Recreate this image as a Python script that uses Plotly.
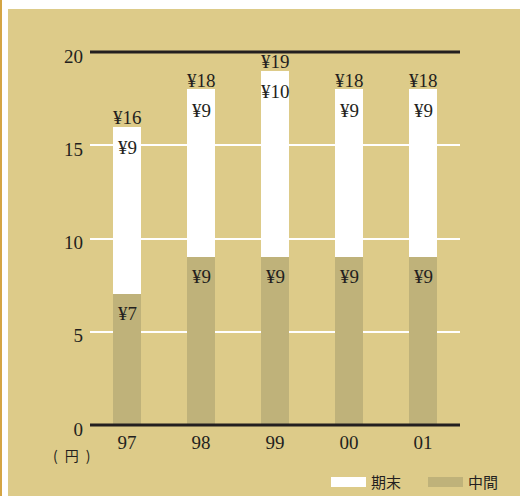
import plotly.graph_objects as go

# Dividend per share (yen), fiscal years 97-01
years = ["97", "98", "99", "00", "01"]
interim = [7, 9, 9, 9, 9]      # 中間
year_end = [9, 9, 10, 9, 9]    # 期末
totals = [a + b for a, b in zip(interim, year_end)]
y_ticks = [0, 5, 10, 15, 20]
xpos = list(range(len(years)))

W, H = 520, 496
ML, MR, MT, MB = 90, 60, 52, 71
PW, PH = W - ML - MR, H - MT - MB

BG = "#DDCB89"
INTERIM_C = "#BFB27A"
INK = "#231F20"
SERIF = "Liberation Serif, Times New Roman, serif"
SANS = "Noto Sans CJK JP, Noto Sans, sans-serif"


def px_x(p):
    return (p - ML) / PW


def px_y(p):
    return (H - MB - p) / PH


fig = go.Figure()
fig.add_bar(x=xpos, y=interim, name="中間", marker=dict(color=INTERIM_C, line_width=0),
            width=0.37, showlegend=False, hoverinfo="skip")
fig.add_bar(x=xpos, y=year_end, name="期末", marker=dict(color="#FFFFFF", line_width=0),
            width=0.37, showlegend=False, hoverinfo="skip")

ann = []
lab_font = dict(family=SERIF, size=19, color=INK)
for x, a, b, t in zip(xpos, interim, year_end, totals):
    ann.append(dict(x=x, y=t, xref="x", yref="y", text=f"¥{t}", showarrow=False,
                    yanchor="middle", yshift=9, font=lab_font))
    ann.append(dict(x=x, y=t, xref="x", yref="y", text=f"¥{b}", showarrow=False,
                    yanchor="middle", yshift=-21, font=lab_font))
    ann.append(dict(x=x, y=a, xref="x", yref="y", text=f"¥{a}", showarrow=False,
                    yanchor="middle", yshift=-19, font=lab_font))

# unit label
ann.append(dict(xref="paper", yref="paper", x=px_x(71), y=px_y(455),
                text="(\u2002円\u2002)", showarrow=False, xanchor="center", yanchor="middle",
                font=dict(family=SANS, size=14, color=INK)))

# legend
legend_items = [("期末", "#FFFFFF", 331), ("中間", INTERIM_C, 428)]
shapes = [
    # white margins and gold edge around the panel
    dict(type="rect", xref="paper", yref="paper", x0=px_x(0), x1=px_x(8),
         y0=px_y(H), y1=px_y(0), fillcolor="#FFFFFF", line_width=0, layer="below"),
    dict(type="rect", xref="paper", yref="paper", x0=px_x(0), x1=px_x(W),
         y0=px_y(9), y1=px_y(0), fillcolor="#FFFFFF", line_width=0, layer="below"),
    dict(type="rect", xref="paper", yref="paper", x0=px_x(0), x1=px_x(2),
         y0=px_y(H), y1=px_y(0), fillcolor="#D4A544", line_width=0, layer="below"),
]
# dark rules along the bottom and top edges of the plot area (0 and 20 yen)
for yp in (0, 1):
    shapes.append(dict(type="line", xref="paper", yref="paper", x0=0, x1=1, y0=yp, y1=yp,
                       line=dict(color=INK, width=3), layer="above"))
for name, col, x0 in legend_items:
    shapes.append(dict(type="rect", xref="paper", yref="paper", x0=px_x(x0), x1=px_x(x0 + 35),
                       y0=px_y(487), y1=px_y(477), fillcolor=col, line_width=0))
    ann.append(dict(xref="paper", yref="paper", x=px_x(x0 + 38), y=px_y(482), text=name,
                    showarrow=False, xanchor="left", yanchor="middle",
                    font=dict(family=SANS, size=15, color=INK)))

fig.update_layout(
    width=W, height=H, margin=dict(l=ML, r=MR, t=MT, b=MB),
    paper_bgcolor=BG, plot_bgcolor=BG, barmode="stack",
    annotations=ann, shapes=shapes,
    xaxis=dict(range=[-0.5, len(years) - 0.5], tickvals=xpos, ticktext=years,
               showline=False, showgrid=False, zeroline=False, ticks="",
               ticklabelstandoff=4,
               tickfont=dict(family=SERIF, size=19, color=INK)),
    yaxis=dict(range=[y_ticks[0], y_ticks[-1]], tickvals=y_ticks, showgrid=True,
               gridcolor="#FFFFFF", gridwidth=1.5, zeroline=False, showline=False,
               ticks="", ticklabelstandoff=6, ticklabelshift=4,
               tickfont=dict(family=SERIF, size=19, color=INK)),
)

fig.write_html("out.html")
